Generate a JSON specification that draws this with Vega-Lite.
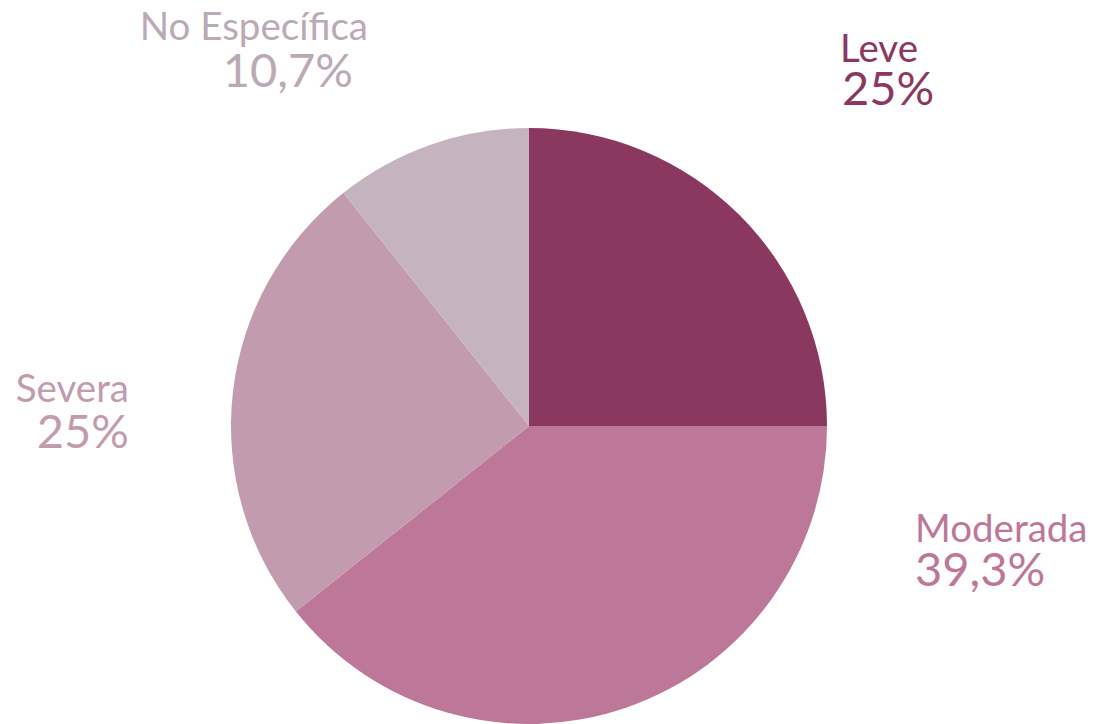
{
  "$schema": "https://vega.github.io/schema/vega-lite/v6.json",
  "width": 596,
  "height": 596,
  "autosize": {"type": "none"},
  "padding": {"left": 231, "top": 128, "right": 276, "bottom": 0},
  "background": "white",
  "config": {"view": {"stroke": null}},
  "data": {
    "values": [
      {"categoria": "Leve", "porcentaje": 25, "etiqueta": "25%", "orden": 1},
      {"categoria": "Moderada", "porcentaje": 39.3, "etiqueta": "39,3%", "orden": 2},
      {"categoria": "Severa", "porcentaje": 25, "etiqueta": "25%", "orden": 3},
      {"categoria": "No Específica", "porcentaje": 10.7, "etiqueta": "10,7%", "orden": 4}
    ]
  },
  "encoding": {
    "theta": {"field": "porcentaje", "type": "quantitative", "stack": true},
    "order": {"field": "orden", "type": "quantitative"}
  },
  "layer": [
    {
      "mark": {"type": "arc"},
      "encoding": {
        "color": {
          "field": "categoria",
          "type": "nominal",
          "scale": {
            "domain": ["Leve", "Moderada", "Severa", "No Específica"],
            "range": ["#8A3860", "#BD7799", "#C29BAE", "#C5B4BF"]
          },
          "legend": null
        }
      }
    },
    {
      "mark": {"type": "text", "radius": 330, "dx": 77.7, "dy": -130.7, "align": "left", "baseline": "alphabetic", "fontSize": 38.5, "font": "Lato", "color": "#8A3860"},
      "encoding": {"text": {"condition": {"test": "datum.categoria === 'Leve'", "field": "categoria"}, "value": ""}}
    },
    {
      "mark": {"type": "text", "radius": 330, "dx": 79.7, "dy": -87.7, "align": "left", "baseline": "alphabetic", "fontSize": 47, "font": "Lato", "color": "#8A3860"},
      "encoding": {"text": {"condition": {"test": "datum.categoria === 'Leve'", "field": "etiqueta"}, "value": ""}}
    },
    {
      "mark": {"type": "text", "radius": 330, "dx": 277.2, "dy": -195.5, "align": "left", "baseline": "alphabetic", "fontSize": 38.5, "font": "Lato", "color": "#BD7799"},
      "encoding": {"text": {"condition": {"test": "datum.categoria === 'Moderada'", "field": "categoria"}, "value": ""}}
    },
    {
      "mark": {"type": "text", "radius": 330, "dx": 277.2, "dy": -151.5, "align": "left", "baseline": "alphabetic", "fontSize": 47, "font": "Lato", "color": "#BD7799"},
      "encoding": {"text": {"condition": {"test": "datum.categoria === 'Moderada'", "field": "etiqueta"}, "value": ""}}
    },
    {
      "mark": {"type": "text", "radius": 330, "dx": -72.1, "dy": 13.3, "align": "right", "baseline": "alphabetic", "fontSize": 38.5, "font": "Lato", "color": "#C29BAE"},
      "encoding": {"text": {"condition": {"test": "datum.categoria === 'Severa'", "field": "categoria"}, "value": ""}}
    },
    {
      "mark": {"type": "text", "radius": 330, "dx": -72.1, "dy": 59.3, "align": "right", "baseline": "alphabetic", "fontSize": 47, "font": "Lato", "color": "#C29BAE"},
      "encoding": {"text": {"condition": {"test": "datum.categoria === 'Severa'", "field": "etiqueta"}, "value": ""}}
    },
    {
      "mark": {"type": "text", "radius": 330, "dx": -52.2, "dy": -74.5, "align": "right", "baseline": "alphabetic", "fontSize": 38.5, "font": "Lato", "color": "#BBA9B5"},
      "encoding": {"text": {"condition": {"test": "datum.categoria === 'No Específica'", "field": "categoria"}, "value": ""}}
    },
    {
      "mark": {"type": "text", "radius": 330, "dx": -67.2, "dy": -27.5, "align": "right", "baseline": "alphabetic", "fontSize": 47, "font": "Lato", "color": "#BBA9B5"},
      "encoding": {"text": {"condition": {"test": "datum.categoria === 'No Específica'", "field": "etiqueta"}, "value": ""}}
    }
  ]
}
